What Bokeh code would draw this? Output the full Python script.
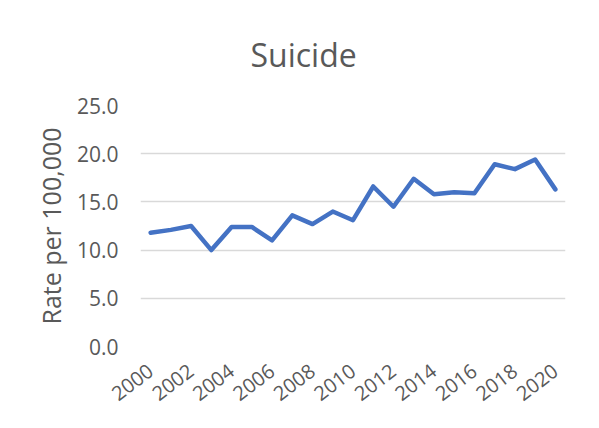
import math
from bokeh.plotting import figure
from bokeh.models import ColumnDataSource, FixedTicker, NumeralTickFormatter, Range1d
from bokeh.embed import file_html
from bokeh.resources import INLINE

# Data
years = list(range(2000, 2021))
rates = [11.8, 12.1, 12.5, 10.0, 12.4, 12.4, 11.0, 13.6, 12.7, 14.0, 13.1,
         16.6, 14.5, 17.4, 15.8, 16.0, 15.9, 18.9, 18.4, 19.4, 16.3]
x_tick_years = list(range(2000, 2021, 2))
y_ticks = [0, 5, 10, 15, 20, 25]

FONT = "Open Sans"
TXT = "#595959"

p = figure(width=591, height=420, output_backend="svg", toolbar_location=None,
           x_range=Range1d(1999.5, 2020.5), y_range=Range1d(0, 25),
           min_border_left=140, min_border_right=26, min_border_top=105,
           min_border_bottom=74, title="Suicide")

src = ColumnDataSource(dict(x=years, y=rates))
p.line("x", "y", source=src, line_color="#4472C4", line_width=4.5,
       line_join="round", line_cap="round")

p.title.align = "left"
p.title.offset = 110
p.title.text_font = FONT
p.title.text_font_size = "32px"
p.title.text_font_style = "normal"
p.title.text_color = TXT
p.title.standoff = 60

p.outline_line_color = None
p.background_fill_color = "white"
p.border_fill_color = "white"

p.xgrid.grid_line_color = None
p.ygrid.grid_line_color = "#d9d9d9"
p.ygrid.grid_line_width = 1.3

p.xaxis.ticker = FixedTicker(ticks=x_tick_years)
p.yaxis.ticker = FixedTicker(ticks=y_ticks)
p.yaxis.formatter = NumeralTickFormatter(format="0.0")

for ax in (p.xaxis[0], p.yaxis[0]):
    ax.axis_line_color = None
    ax.major_tick_line_color = None
    ax.minor_tick_line_color = None
    ax.major_tick_out = 0
    ax.major_tick_in = 0
    ax.major_label_text_font = FONT
    ax.major_label_text_color = TXT

p.xaxis.major_label_orientation = 0.65
p.xaxis.major_label_text_font_size = "20px"
p.xaxis.major_label_standoff = 22

p.yaxis.major_label_text_font_size = "21px"
p.yaxis.major_label_standoff = 22
p.yaxis.axis_label = "Rate per 100,000"
p.yaxis.axis_label_text_font = FONT
p.yaxis.axis_label_text_font_size = "25px"
p.yaxis.axis_label_text_font_style = "normal"
p.yaxis.axis_label_text_color = TXT
p.yaxis.axis_label_standoff = 6

open("out.html", "w").write(file_html(p, INLINE))
